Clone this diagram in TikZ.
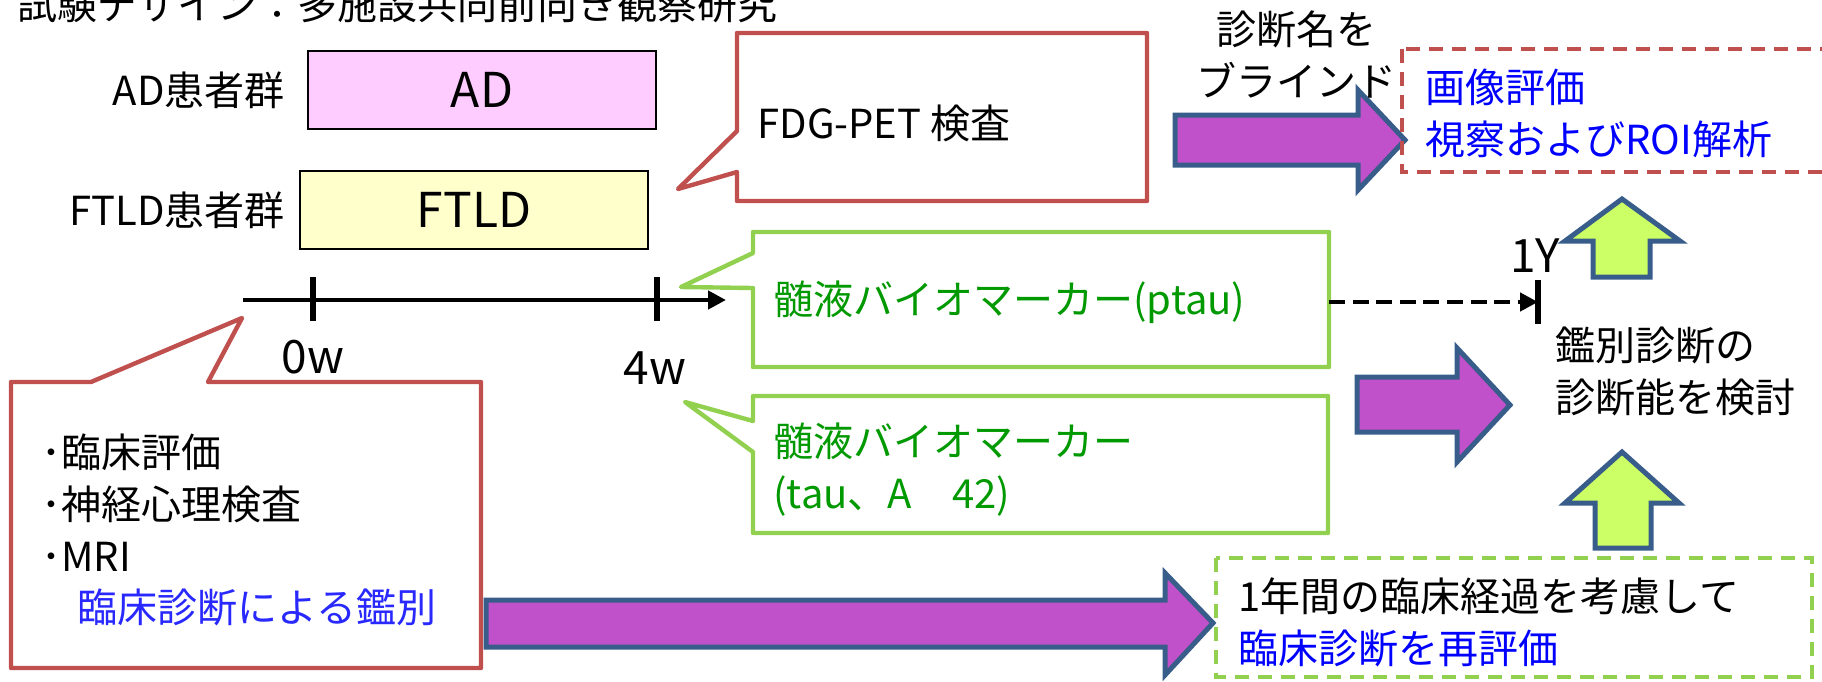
\documentclass[tikz,border=0pt]{standalone}
\usepackage{fontspec}
\setmainfont{Noto Sans CJK JP}
\usetikzlibrary{arrows.meta}
\usetikzlibrary{positioning}

\definecolor{callred}{RGB}{192,80,77}
\definecolor{callgreen}{RGB}{146,208,80}
\definecolor{txtgreen}{RGB}{0,153,0}
\definecolor{txtblue}{RGB}{0,0,255}
\definecolor{lightblue}{RGB}{40,40,255}
\definecolor{arrowfill}{RGB}{193,80,203}
\definecolor{arrowline}{RGB}{56,93,138}
\definecolor{upfill}{RGB}{204,255,102}
\definecolor{adfill}{RGB}{255,204,255}
\definecolor{ftldfill}{RGB}{255,255,204}

\begin{document}
\begin{tikzpicture}[
                x = 0.5pt, y = -0.5pt,
                every node/.style = {inner sep = 0pt, font = \fontsize{20}{26}\selectfont},
                group/.style = {draw, line width = 1pt, minimum width = 174pt, minimum height = 39pt,
                    font = \fontsize{24}{26}\selectfont},
                mark label/.style = {font = \fontsize{23}{26}\selectfont},
                redcall/.style = {draw = callred, fill = white, line width = 2.2pt, line join = round},
                greencall/.style = {draw = callgreen, fill = white, line width = 2.2pt, line join = round},
                blockarr/.style = {draw = arrowline, fill = arrowfill, line width = 2.5pt},
                uparr/.style = {draw = arrowline, fill = upfill, line width = 2.5pt},
                dashbox/.style = {draw, line width = 2pt, dash pattern = on 7pt off 4.5pt},
                axis/.style = {draw, line width = 2.2pt, -{Triangle[length = 9pt, width = 9pt]}},
                tickmark/.style = {draw, line width = 2.6pt},
            ]
            \useasboundingbox (0,0) rectangle (1822,681);

            \node (title) [anchor = west] at (17,4) {試験デザイン：多施設共同前向き観察研究};

            % patient groups
            \node (ad) [group, fill = adfill] at (482,90) {AD};
            \node (ftld) [group, fill = ftldfill] at (474,210) {FTLD};
            \node (adlabel) [left = 11pt of ad] {AD患者群};
            \node (ftldlabel) [left = 7pt of ftld] {FTLD患者群};

            % callouts
            \path[redcall] (737,33) -- (1147,33) -- (1147,201) -- (737,201) -- (737,172)
                -- (678,189) -- (737,131) -- cycle;
            \path[greencall] (753,232) -- (1329,232) -- (1329,367) -- (753,367) -- (753,288)
                -- (681,287) -- (753,253) -- cycle;
            \path[greencall] (753,396) -- (1328,396) -- (1328,533) -- (753,533) -- (753,452)
                -- (685,402) -- (753,421) -- cycle;
            \path[redcall] (11,382) -- (91,382) -- (242,318) -- (208,382) -- (481,382)
                -- (481,668) -- (11,668) -- cycle;

            \node (fdg) [anchor = west] at (757,123) {FDG-PET 検査};
            \node (ptau) [anchor = west, text = txtgreen] at (773,302) {髄液バイオマーカー(ptau)};
            \node (tau) [anchor = west, align = left, text = txtgreen] at (773,470)
                {髄液バイオマーカー\\(tau、A　42)};
            \node (exams) [anchor = west, align = left] at (41,503) {･臨床評価\\･神経心理検査\\･MRI};
            \node (clindiff) [anchor = west, text = lightblue] at (77,607) {臨床診断による鑑別};

            % time axis
            \coordinate (tstart) at (243,300);
            \coordinate (tend) at (726,300);
            \coordinate (w0) at (313,299);
            \coordinate (w4) at (657,299);
            \path[axis] (tstart) -- (tend);
            \path[tickmark] ([yshift = 11pt]w0) -- ([yshift = -11pt]w0);
            \path[tickmark] ([yshift = 11pt]w4) -- ([yshift = -11pt]w4);
            \node (w0label) [mark label] at (313,357) {0w};
            \node (w4label) [mark label] at (655,368) {4w};

            \coordinate (ptauend) at (1329,302);
            \coordinate (year) at (1538,302);
            \path[axis, dash pattern = on 8pt off 3.8pt] (ptauend) -- (year);
            \path[tickmark] ([yshift = 11pt]year) -- ([yshift = -11pt]year);
            \node (yearlabel) [mark label] at (1535,256) {1Y};

            % block arrows
            \path[blockarr] (1175,115) -- (1358,115) -- (1358,90) -- (1405,140) -- (1358,190)
                -- (1358,165) -- (1175,165) -- cycle;
            \path[blockarr] (1357,377) -- (1457,377) -- (1457,348) -- (1510,405) -- (1457,462)
                -- (1457,432) -- (1357,432) -- cycle;
            \path[blockarr] (486,600) -- (1165,600) -- (1165,573) -- (1213,623) -- (1165,675)
                -- (1165,647) -- (486,647) -- cycle;
            \path[uparr] (1593,277) -- (1593,241) -- (1565,241) -- (1622,199) -- (1680,241)
                -- (1650,241) -- (1650,277) -- cycle;
            \path[uparr] (1595,548) -- (1595,503) -- (1565,503) -- (1622,452) -- (1679,503)
                -- (1651,503) -- (1651,548) -- cycle;

            \node (blind) [align = center] at (1296,54) {診断名を\\ブラインド};

            % evaluation boxes
            \path[dashbox, draw = callred] (1402,49) rectangle (1840,172);
            \node (imgeval) [anchor = west, align = left, text = txtblue] at (1425,113)
                {画像評価\\視察およびROI解析};
            \path[dashbox, draw = callgreen] (1216,558) rectangle (1812,677);
            \node (reeval) [anchor = west, align = left] at (1238,622)
                {1年間の臨床経過を考慮して\\\textcolor{txtblue}{臨床診断を再評価}};

            \node (result) [anchor = west, align = left] at (1555,371) {鑑別診断の\\診断能を検討};
        \end{tikzpicture}
\end{document}
